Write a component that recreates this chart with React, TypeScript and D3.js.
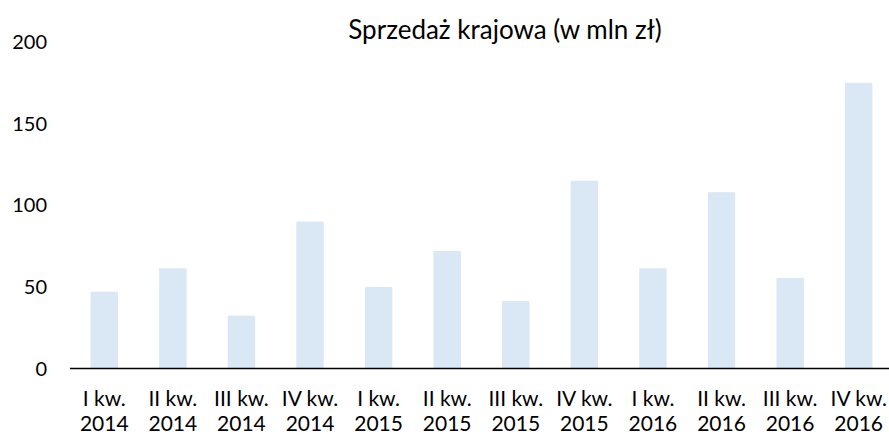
import React from "react";
import * as d3 from "d3";

const categories = [
  ["I kw.", "2014"], ["II kw.", "2014"], ["III kw.", "2014"], ["IV kw.", "2014"],
  ["I kw.", "2015"], ["II kw.", "2015"], ["III kw.", "2015"], ["IV kw.", "2015"],
  ["I kw.", "2016"], ["II kw.", "2016"], ["III kw.", "2016"], ["IV kw.", "2016"],
];
const values = [47, 61.4, 32.4, 90, 50, 72, 41.3, 115, 61.4, 108, 55.4, 175];
const yTicks = [0, 50, 100, 150, 200];
const title = "Sprzedaż krajowa (w mln zł)";

export default function App() {
  const W = 889, H = 436;
  const font = "Lato, 'Open Sans', sans-serif";
  const x = d3.scaleBand<number>().domain(d3.range(categories.length)).range([70, 893]).paddingInner(0.6).paddingOuter(0.3);
  const y = d3.scaleLinear().domain([0, 200]).range([368.5, 42]);
  return (
    <svg width={W} height={H} style={{ position: "absolute", left: 0, top: 0 }}>
      <rect width={W} height={H} fill="#fff" />
      <text x={505} y={39} textAnchor="middle" fontFamily={font} fontSize={26} fill="#000">{title}</text>
      {yTicks.map((t) => (
        <text key={t} x={47} y={y(t)} dy="0.35em" textAnchor="end" fontFamily={font} fontSize={20} fill="#000">{t}</text>
      ))}
      {values.map((v, i) => (
        <rect key={i} x={x(i)} y={y(v)} width={x.bandwidth()} height={y(0) - y(v)} fill="#DAE7F5" />
      ))}
      <line x1={70} x2={889} y1={y(0)} y2={y(0)} stroke="#000" strokeWidth={1.5} />
      {categories.map((c, i) => {
        const cx = (x(i) as number) + x.bandwidth() / 2;
        return (
          <g key={i}>
            <text x={cx} y={406} textAnchor="middle" fontFamily={font} fontSize={21} fill="#000">{c[0]}</text>
            <text x={cx} y={431} textAnchor="middle" fontFamily={font} fontSize={21} fill="#000">{c[1]}</text>
          </g>
        );
      })}
    </svg>
  );
}
